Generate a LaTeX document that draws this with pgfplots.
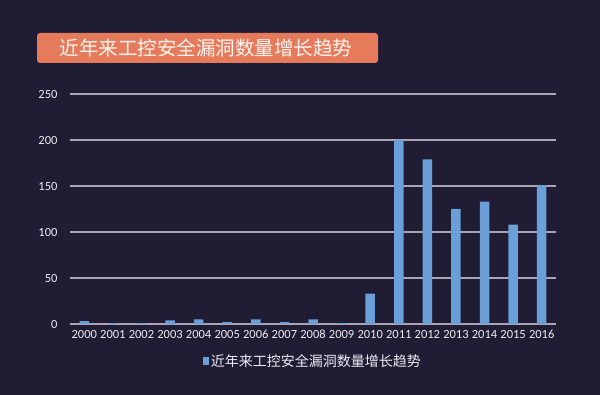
\documentclass[border=0pt]{standalone}
\usepackage{pgfplots}
\pgfplotsset{compat=1.18}
\usepackage{fontspec}
\setmainfont{Carlito}
\newfontfamily\cjk{Noto Sans CJK SC}
\definecolor{bgc}{HTML}{1F1C33}
\definecolor{barc}{HTML}{6A9FD8}
\definecolor{gridc}{HTML}{A8A6B6}
\definecolor{titlec}{HTML}{E67B5C}
\definecolor{txtc}{HTML}{ECECF2}
\begin{document}
\begin{tikzpicture}
\fill[bgc] (0,0) rectangle (600pt,395pt);
\fill[titlec, rounded corners=3pt] (37pt,332pt) rectangle (378pt,362pt);
\node[text=white!92!titlec, font=\cjk\fontsize{19.5}{20}\selectfont] at (206pt,347pt) {近年来工控安全漏洞数量增长趋势};
\begin{axis}[
  at={(70pt,71pt)}, anchor=south west,
  scale only axis, width=486pt, height=230pt,
  xmin=-0.5, xmax=16.5, ymin=0, ymax=250,
  ytick={0,50,100,150,200,250},
  xtick={0,...,16},
  xticklabels={2000,2001,2002,2003,2004,2005,2006,2007,2008,2009,2010,2011,2012,2013,2014,2015,2016},
  ymajorgrids, grid style={gridc, line width=1.3pt},
  axis line style={draw=none},
  axis x line*=bottom, axis y line*=left,
  major tick length=0pt,
  tick label style={text=txtc, font=\fontsize{12.5}{13}\selectfont},
  /pgf/number format/assume math mode=true,
  xticklabel style={anchor=north, text height=9pt, text depth=2pt, yshift=-2pt},
  yticklabel shift=9pt,
  legend style={at={(0.5,-0.115)}, anchor=north, draw=none, fill=none,
    text=txtc, font=\cjk\fontsize{14}{15}\selectfont},
  legend image code/.code={\fill[barc] (0pt,-3.5pt) rectangle (6pt,4.5pt);},
]
\addplot[ybar, bar width=9.5pt, fill=barc, draw=none] coordinates {
(0,3) (1,1) (2,1) (3,4) (4,5) (5,2) (6,5) (7,2) (8,5) (9,1)
(10,33) (11,200) (12,179) (13,125) (14,133) (15,108) (16,151)};
\addlegendentry{近年来工控安全漏洞数量增长趋势}
\end{axis}
\end{tikzpicture}
\end{document}
